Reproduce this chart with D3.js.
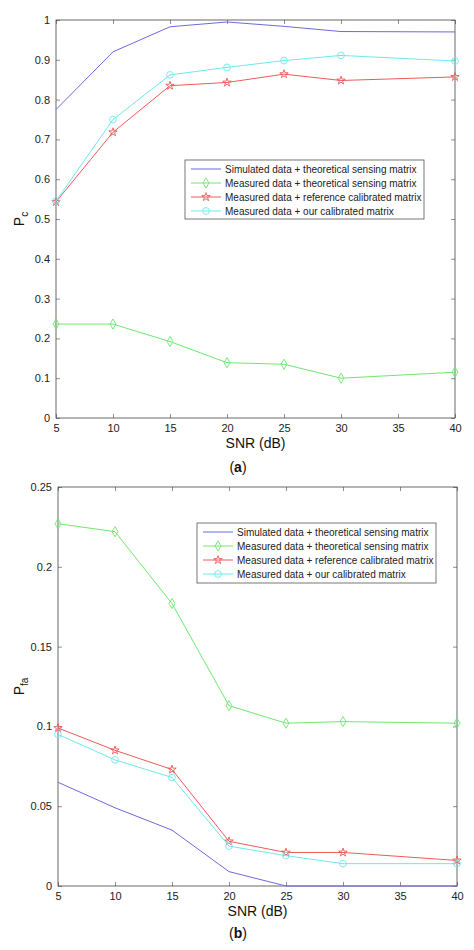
<!DOCTYPE html>
<html><head><meta charset="utf-8">
<script src="https://cdn.jsdelivr.net/npm/d3@7"></script>
<style>body{margin:0;background:#fff}svg{display:block}text{font-family:"Liberation Sans",Arial,sans-serif}</style>
</head><body>
<svg id="c" width="474" height="950"></svg>
<script>
// DATA ################################################
const snr = [5, 10, 15, 20, 25, 30, 40];
const seriesNames = [
  "Simulated data + theoretical sensing matrix",
  "Measured data + theoretical sensing matrix",
  "Measured data + reference calibrated matrix",
  "Measured data + our calibrated matrix"
];
const colors = ["#6b6bdc", "#6ee86e", "#ec5a5a", "#6ee8ee"];
const markers = ["none", "diamond", "star", "circle"];

const pcSim = [0.775, 0.92, 0.983, 0.995, 0.984, 0.971, 0.97];
const pcMeasTheo = [0.236, 0.236, 0.192, 0.139, 0.135, 0.1, 0.115];
const pcMeasRef = [0.543, 0.718, 0.835, 0.843, 0.864, 0.848, 0.857];
const pcMeasOur = [0.545, 0.75, 0.862, 0.881, 0.898, 0.911, 0.897];

const pfaSim = [0.065, 0.049, 0.035, 0.009, 0, 0, 0];
const pfaMeasTheo = [0.227, 0.222, 0.177, 0.113, 0.102, 0.103, 0.102];
const pfaMeasRef = [0.099, 0.085, 0.073, 0.028, 0.021, 0.021, 0.016];
const pfaMeasOur = [0.095, 0.079, 0.068, 0.025, 0.019, 0.014, 0.014];

const xTicks = [5, 10, 15, 20, 25, 30, 35, 40];
const pcTicks = [0, 0.1, 0.2, 0.3, 0.4, 0.5, 0.6, 0.7, 0.8, 0.9, 1];
const pfaTicks = [0, 0.05, 0.1, 0.15, 0.2, 0.25];

const svg = d3.select("#c");

function markerPath(type) {
  if (type === "diamond") return d3.symbol(d3.symbolDiamond, 30)();
  if (type === "star") return d3.symbol(d3.symbolStar, 22)();
  if (type === "circle") return d3.symbol(d3.symbolCircle, 36)();
  return null;
}

function panel(o) {
  const x = d3.scaleLinear().domain([5, 40]).range([o.left, o.right]);
  const y = d3.scaleLinear().domain([0, o.ymax]).range([o.bottom, o.top]);
  const g = svg.append("g");

  // box + inward ticks on all sides
  g.append("rect").attr("x", o.left).attr("y", o.top)
    .attr("width", o.right - o.left).attr("height", o.bottom - o.top)
    .attr("fill", "none").attr("stroke", "#444").attr("stroke-width", 0.8);
  const ax = (gen, tr) => g.append("g").attr("transform", tr).call(gen)
    .call(s => s.select(".domain").remove())
    .call(s => s.selectAll("line").attr("stroke", "#444").attr("stroke-width", 0.6))
    .call(s => s.selectAll("text").attr("font-size", 11).attr("fill", "#222"));
  ax(d3.axisBottom(x).tickValues(xTicks).tickSize(-4).tickPadding(6).tickFormat(d3.format("d")), `translate(0,${o.bottom})`);
  ax(d3.axisTop(x).tickValues(xTicks).tickSize(-4).tickFormat(""), `translate(0,${o.top})`);
  ax(d3.axisLeft(y).tickValues(o.ticks).tickSize(-4).tickPadding(6).tickFormat(d => d === 0 ? "0" : String(d)), `translate(${o.left},0)`);
  ax(d3.axisRight(y).tickValues(o.ticks).tickSize(-4).tickFormat(""), `translate(${o.right},0)`);

  const line = d3.line().x((d, i) => x(snr[i])).y(d => y(d));
  o.series.forEach((vals, k) => {
    g.append("path").attr("d", line(vals)).attr("fill", "none")
      .attr("stroke", colors[k]).attr("stroke-width", 1);
    const mp = markerPath(markers[k]);
    if (mp) g.selectAll(null).data(vals).join("path")
      .attr("d", mp).attr("transform", (d, i) => `translate(${x(snr[i])},${y(d)})`)
      .attr("fill", "none").attr("stroke", colors[k]).attr("stroke-width", 0.9);
  });

  // legend
  const L = o.legend;
  g.append("rect").attr("x", L.x).attr("y", L.y).attr("width", L.w).attr("height", L.h)
    .attr("fill", "#fff").attr("stroke", "#555").attr("stroke-width", 0.8);
  seriesNames.forEach((n, k) => {
    const yy = L.y + 9 + k * 14;
    g.append("line").attr("x1", L.x + 6).attr("x2", L.x + 36).attr("y1", yy).attr("y2", yy)
      .attr("stroke", colors[k]).attr("stroke-width", 1);
    const mp = markerPath(markers[k]);
    if (mp) g.append("path").attr("d", mp).attr("transform", `translate(${L.x + 21},${yy})`)
      .attr("fill", "none").attr("stroke", colors[k]).attr("stroke-width", 0.9);
    g.append("text").attr("x", L.x + 40).attr("y", yy + 4).attr("font-size", 10).attr("fill", "#222").text(n);
  });

  // axis titles
  g.append("text").attr("x", (o.left + o.right) / 2).attr("y", o.bottom + 30)
    .attr("text-anchor", "middle").attr("font-size", 14).attr("fill", "#111").text("SNR (dB)");
  const yl = g.append("text").attr("transform", `translate(24,${(o.top + o.bottom) / 2}) rotate(-90)`)
    .attr("text-anchor", "middle").attr("font-size", 14).attr("fill", "#111");
  yl.append("tspan").text("P");
  yl.append("tspan").attr("font-size", 10).attr("dy", 4).text(o.sub);

  g.append("text").attr("x", 238).attr("y", o.caption).attr("text-anchor", "middle")
    .attr("font-family", "DejaVu Serif, serif").attr("font-size", 14).attr("fill", "#111")
    .html('(<tspan font-weight="bold">' + o.cap + '</tspan>)');
}

panel({left: 56, right: 455, top: 20, bottom: 418, ymax: 1, ticks: pcTicks, sub: "c",
  series: [pcSim, pcMeasTheo, pcMeasRef, pcMeasOur],
  legend: {x: 185, y: 160, w: 239, h: 59}, caption: 472, cap: "a"});
panel({left: 58, right: 457, top: 487, bottom: 886, ymax: 0.25, ticks: pfaTicks, sub: "fa",
  series: [pfaSim, pfaMeasTheo, pfaMeasRef, pfaMeasOur],
  legend: {x: 197, y: 523, w: 239, h: 60}, caption: 938, cap: "b"});
</script>
</body></html>
